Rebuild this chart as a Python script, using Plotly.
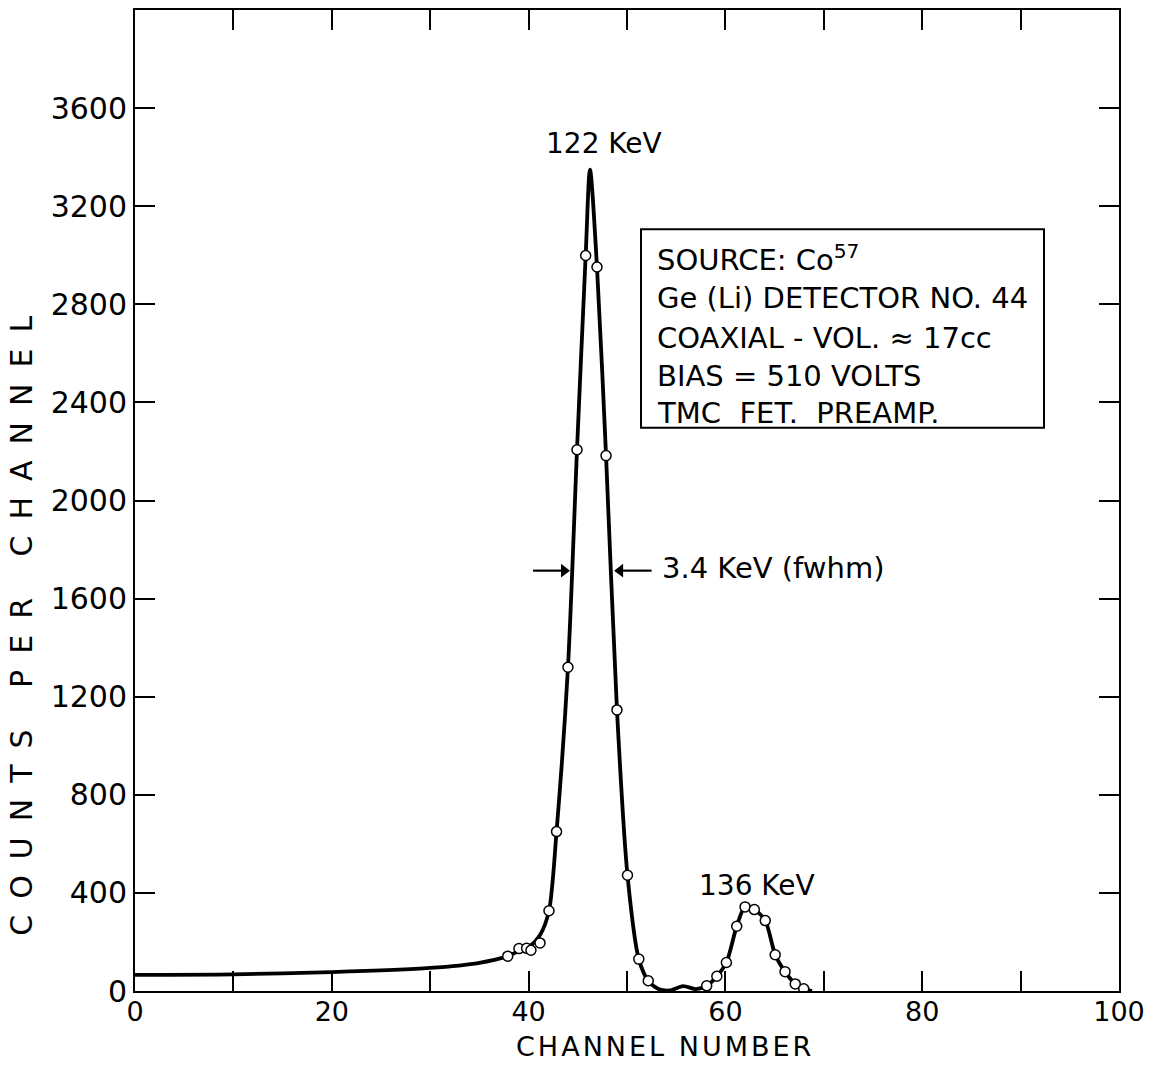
import plotly.graph_objects as go

# ---- data ----
# smooth hand-drawn curve (control points)
curve_x = [0, 10, 20, 30, 35, 37.88, 39.0, 40.2, 41.16, 42.07, 42.84, 44.0, 44.92,
           45.8, 46.24, 46.95, 47.87, 48.98, 50.05, 51.2, 52.16, 53.2, 54.3, 55.7,
           57.0, 58.1, 59.13, 60.1, 61.15, 62.0, 62.94, 64.05, 65.06, 66.06, 67.1,
           67.96, 68.8]
curve_y = [66, 68, 77, 94, 115, 142, 163, 185, 228, 327, 650, 1320, 2207,
           2999, 3349, 2952, 2183, 1146, 472, 130, 42, 8, 2, 20,
           8, 21, 60, 116, 264, 343, 332, 287, 148, 79, 29,
           9, 0]

# measured points (open circles)
pts_x = [37.88, 39.02, 39.8, 40.24, 41.16, 42.07, 42.84, 44.0, 44.92, 45.8, 46.95,
         47.87, 48.98, 50.05, 51.2, 52.16, 58.1, 59.13, 60.1, 61.15, 62.0, 62.94,
         64.05, 65.06, 66.06, 67.1, 67.96]
pts_y = [142, 173, 174, 166, 196, 327, 650, 1320, 2207, 2999, 2952,
         2183, 1146, 472, 130, 42, 21, 60, 116, 264, 343, 332,
         287, 148, 79, 29, 9]

# fwhm arrows: (tail x, head x) at the half-maximum level
fwhm_y = 1714
left_arrow_x = [40.45, 43.6]
right_arrow_x = [52.5, 49.3]

x_tickvals = [0, 10, 20, 30, 40, 50, 60, 70, 80, 90, 100]
x_ticktext = ["0", "", "20", "", "40", "", "60", "", "80", "", "100"]
y_tickvals = [0, 400, 800, 1200, 1600, 2000, 2400, 2800, 3200, 3600, 4000]
y_ticktext = ["0", "400", "800", "1200", "1600", "2000", "2400", "2800", "3200", "3600", ""]

info_lines = ["SOURCE: Co<sup>57</sup>", "Ge (Li) DETECTOR NO. 44",
              "COAXIAL - VOL. \u2248 17cc", "BIAS = 510 VOLTS", "TMC  FET.  PREAMP."]

FONT = "DejaVu Sans"

fig = go.Figure()
fig.add_trace(go.Scatter(x=curve_x, y=curve_y, mode="lines",
                         line=dict(color="black", width=3.8, shape="spline", smoothing=0.8),
                         hoverinfo="skip", showlegend=False))
fig.add_trace(go.Scatter(x=pts_x, y=pts_y, mode="markers",
                         marker=dict(size=10, color="white", line=dict(color="black", width=1.5)),
                         showlegend=False))
# arrow shafts
for ax_list in (left_arrow_x, right_arrow_x):
    fig.add_trace(go.Scatter(x=ax_list, y=[fwhm_y, fwhm_y], mode="lines",
                             line=dict(color="black", width=2.2),
                             hoverinfo="skip", showlegend=False))
# arrow heads
fig.add_trace(go.Scatter(x=[left_arrow_x[1], right_arrow_x[1]], y=[fwhm_y, fwhm_y],
                         mode="markers",
                         marker=dict(symbol=["triangle-right", "triangle-left"], size=12,
                                     color="black", line=dict(width=0)),
                         hoverinfo="skip", showlegend=False))

axis_common = dict(showgrid=False, zeroline=False, showline=True, linecolor="black",
                   linewidth=2, mirror="ticks", ticks="inside", ticklen=20, tickwidth=1.5,
                   tickcolor="black")

fig.update_xaxes(range=[0, 100], tickvals=x_tickvals, ticktext=x_ticktext,
                 ticklabelstandoff=-4,
                 tickfont=dict(family=FONT, size=27, color="black"), **axis_common)
fig.update_yaxes(range=[0, 4000], tickvals=y_tickvals, ticktext=y_ticktext,
                 tickfont=dict(family=FONT, size=30, color="black"), **axis_common)

ann = []
# axis titles
ann.append(dict(text="CHANNEL NUMBER", xref="paper", yref="paper", x=(665 - 135) / 984,
                y=-(1047 - 991) / 983, showarrow=False, xanchor="center", yanchor="middle",
                font=dict(family=FONT, size=27, color="black")))
ann.append(dict(text="COUNTS PER CHANNEL", xref="paper", yref="paper", x=-(135 - 22) / 984,
                y=(991 - 617) / 983, showarrow=False, xanchor="center", yanchor="middle",
                textangle=-90, font=dict(family=FONT, size=30, color="black")))
# peak labels
ann.append(dict(text="122 KeV", x=47.7, y=3457, xref="x", yref="y", showarrow=False,
                font=dict(family=FONT, size=28, color="black")))
ann.append(dict(text="136 KeV", x=63.2, y=429, xref="x", yref="y", showarrow=False,
                font=dict(family=FONT, size=28, color="black")))
# fwhm text
ann.append(dict(text="3.4 KeV (fwhm)", x=53.35, y=1723, xref="x", yref="y",
                showarrow=False, xanchor="left", yanchor="middle",
                font=dict(family=FONT, size=29, color="black")))
# info box lines
line_py = [257, 297, 337, 375, 412]
for t, py in zip(info_lines, line_py):
    ann.append(dict(text=t, x=(655 - 135) / 9.84, y=(991.5 - py) / 0.2458, xref="x", yref="y",
                    showarrow=False, xanchor="left", yanchor="middle",
                    font=dict(family=FONT, size=29, color="black")))

fig.add_shape(type="rect", xref="x", yref="y",
              x0=(641 - 135) / 9.84, x1=(1044 - 135) / 9.84,
              y0=(991.5 - 427) / 0.2458, y1=(991.5 - 228) / 0.2458,
              line=dict(color="black", width=2), fillcolor="rgba(0,0,0,0)")

fig.update_layout(width=1156, height=1066, margin=dict(l=135, r=37, t=8, b=75),
                  paper_bgcolor="white", plot_bgcolor="white", annotations=ann,
                  font=dict(family=FONT, color="black"))

post = """
var gd = document.getElementById('{plot_id}');
function ls(){
  gd.querySelectorAll('.annotation-text').forEach(function(t){
    if (t.textContent.indexOf('COUNTS') === 0) { t.setAttribute('letter-spacing', '16px'); }
    if (t.textContent.indexOf('CHANNEL NUMBER') === 0) { t.setAttribute('letter-spacing', '3px'); }
  });
}
ls();
gd.on('plotly_afterplot', ls);
"""
fig.write_html("out.html", post_script=post)
